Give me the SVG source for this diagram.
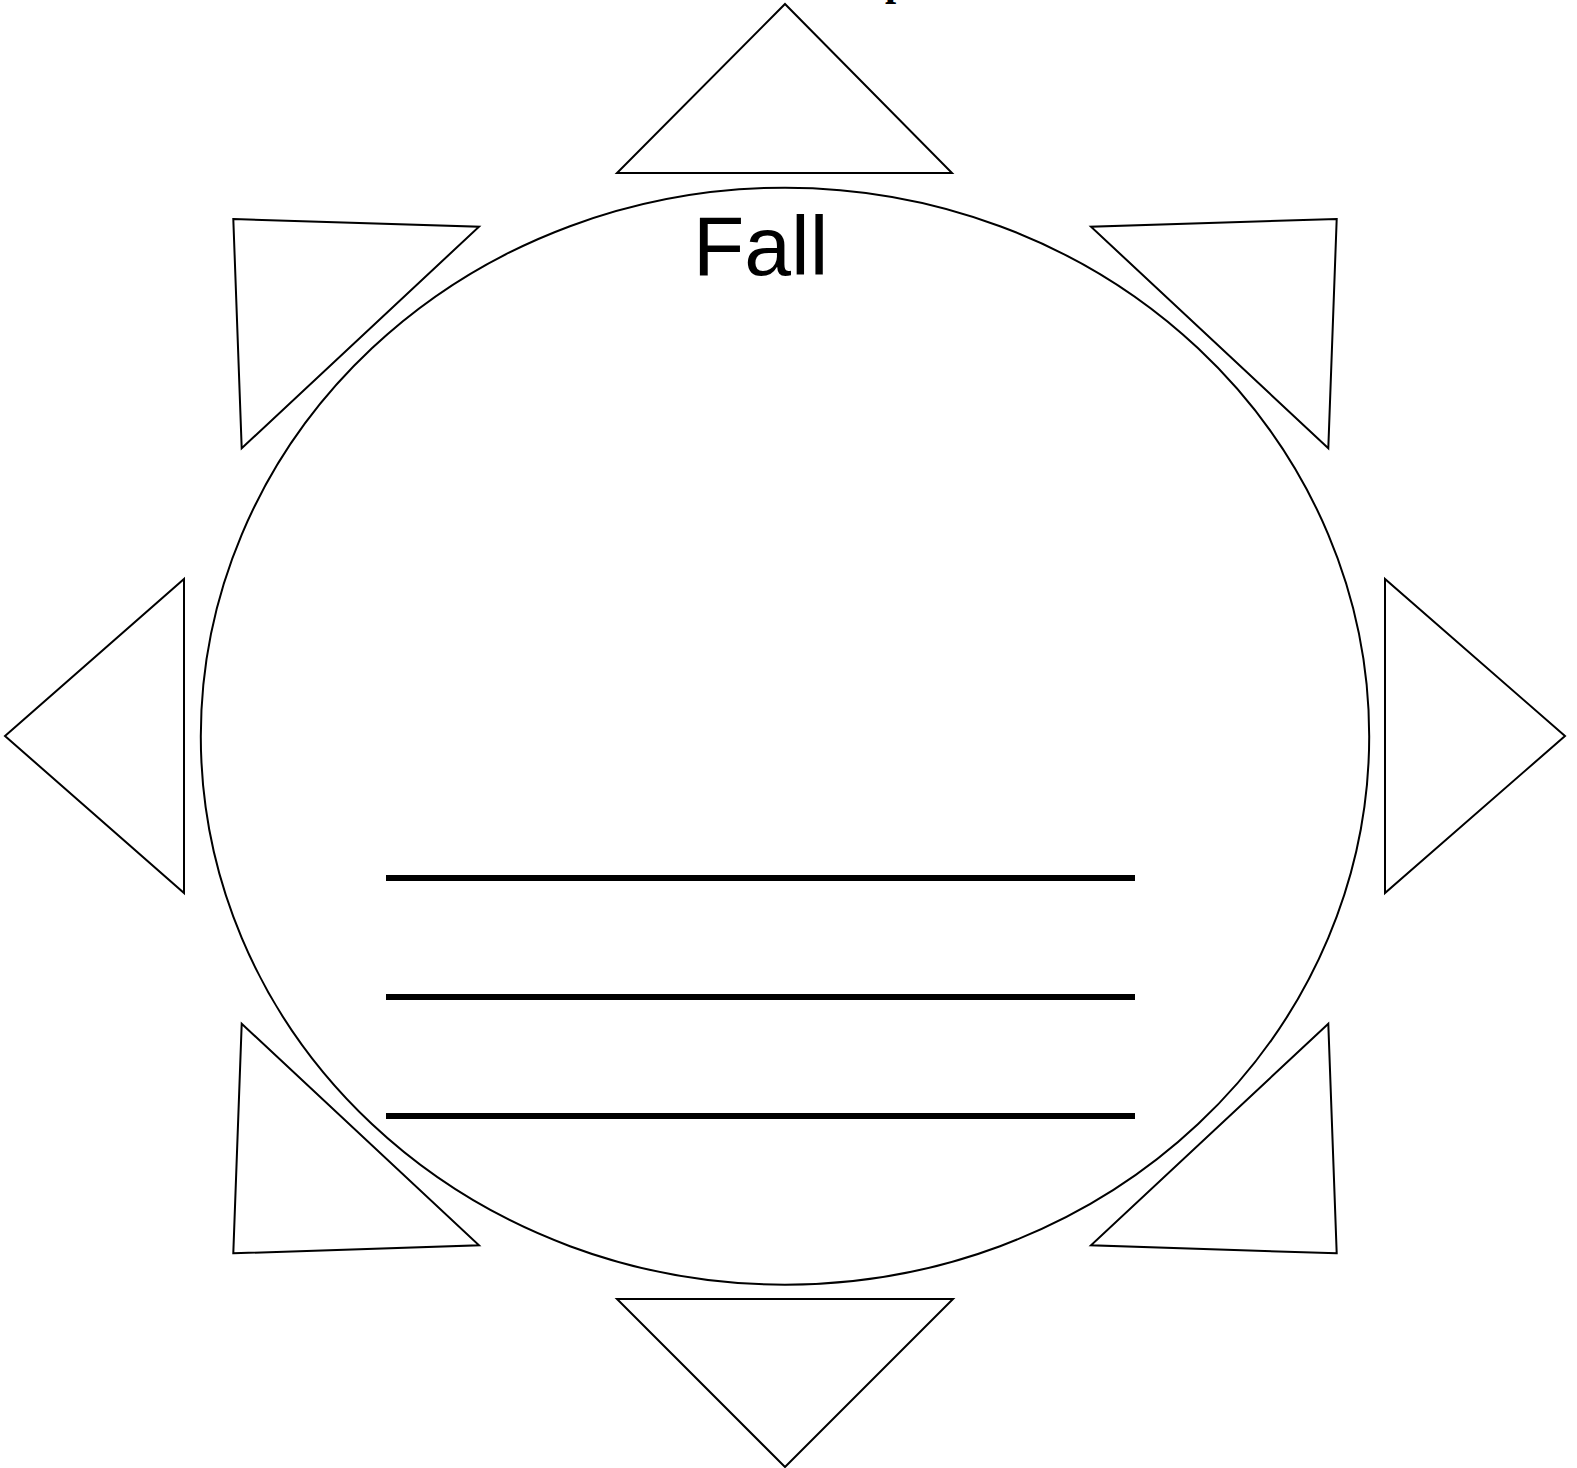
<svg xmlns="http://www.w3.org/2000/svg" width="1577" height="1468" viewBox="0 0 1577 1468">
<style>
.ray{fill:#fff;stroke:#000;stroke-width:2;stroke-linejoin:miter}
.sun{fill:#fff;stroke:#000;stroke-width:2}
.rule{stroke:#000;stroke-width:6}
.title{font-family:"Liberation Sans",Arial,sans-serif;font-size:84px;fill:#000}
.top{font-family:"Liberation Serif","Times New Roman",serif;font-weight:bold;font-size:40px;fill:#000}
</style>
<rect width="1577" height="1468" fill="#fff"/>
<text class="top" x="885" y="-5">p</text>
<g id="ray-top"><polygon class="ray" points="785,4 952,173 617,173"/></g>
<g id="ray-bottom"><polygon class="ray" points="617,1299 953,1299 785,1467"/></g>
<g id="ray-left"><polygon class="ray" points="5,736 184,579 184,893"/></g>
<g id="ray-right"><polygon class="ray" points="1565,736 1385,579 1385,893"/></g>
<g id="ray-top-left"><polygon class="ray" points="233.3,219 479,226.7 241.7,448.3"/></g>
<g id="ray-top-right"><polygon class="ray" points="1336.7,219 1091,226.7 1328.3,448.3"/></g>
<g id="ray-bottom-left"><polygon class="ray" points="233.3,1253.3 479,1245.3 241.7,1023.7"/></g>
<g id="ray-bottom-right"><polygon class="ray" points="1336.7,1253.3 1091,1245.3 1328.3,1023.7"/></g>
<g id="sun">
<ellipse class="sun" cx="785" cy="736.2" rx="584.2" ry="548.5"/>
<text class="title" x="693" y="275">Fall</text>
</g>
<g id="lines">
<line class="rule" x1="386" y1="878" x2="1135" y2="878"/>
<line class="rule" x1="386" y1="997" x2="1135" y2="997"/>
<line class="rule" x1="386" y1="1116" x2="1135" y2="1116"/>
</g>
</svg>
